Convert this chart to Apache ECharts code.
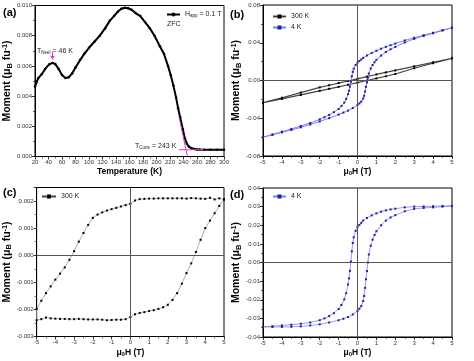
<!DOCTYPE html>
<html><head><meta charset="utf-8">
<script src="https://cdn.jsdelivr.net/npm/echarts@6/dist/echarts.min.js"></script>
<style>html,body{margin:0;padding:0;background:#fff}#c{width:474px;height:361px}</style>
</head><body><div id="c"></div>
<script>
// ---- Panel (a): ZFC moment vs temperature ----
var tempK = [20,22,25,30,35,41,46,50,55,60,65,70,75,80,87,93,100,108,116,124,131,137,143,148,153,158,163,169,176,183,190,197,205,211,217,221,225,229,232,235,239,242,245,248,252,256,260,264,270,280,290,300];
var momentZFC = [0.00463,0.0049,0.0052,0.00545,0.0058,0.0061,0.0062,0.00612,0.0058,0.0054,0.0052,0.00525,0.0055,0.0059,0.0064,0.0068,0.0072,0.0076,0.0080,0.0085,0.0090,0.0093,0.0096,0.00978,0.00985,0.00982,0.00972,0.0095,0.0093,0.0089,0.0085,0.0080,0.0073,0.0068,0.0060,0.0054,0.0047,0.0039,0.0032,0.0026,0.0018,0.0012,0.00085,0.00065,0.00055,0.0005,0.00047,0.00046,0.00045,0.00045,0.00044,0.00045];
var curieTangentT = [233.5, 245.5];
var curieTangentM = [0.0026, 0.00005];
var curieBaseT = [233, 270];
var curieBaseM = [0.00045, 0.00045];
var neelArrowT = 46;
var neelArrowM = [0.00695, 0.00643];

// ---- Panel (b): raw loops ----
var h300Desc = [5,4,3,2,1.5,1,0.5,0,-0.5,-1,-1.5,-2,-3,-4,-5];
var m300bDesc = [0.0235,0.0193,0.0150,0.0107,0.0086,0.0064,0.0041,0.0018,-0.0005,-0.0027,-0.0050,-0.0073,-0.0128,-0.0183,-0.0235];
var h300Asc = [-5,-4,-3,-2,-1.5,-1,-0.5,0,0.5,1,1.5,2,3,4,5];
var m300bAsc = [-0.0235,-0.0195,-0.0153,-0.0110,-0.0088,-0.0067,-0.0045,-0.0023,0.0000,0.0022,0.0045,0.0069,0.0130,0.0183,0.0235];
var h4Desc = [5,4.5,4,3.5,3,2.5,2,1.75,1.5,1.25,1,0.75,0.5,0.3,0.2,0.1,0,-0.1,-0.2,-0.25,-0.3,-0.35,-0.4,-0.45,-0.5,-0.6,-0.7,-0.85,-1,-1.25,-1.5,-1.75,-2,-2.5,-3,-3.5,-4,-4.5,-5];
var m4bDesc = [0.0559,0.0533,0.0506,0.0480,0.0453,0.0424,0.0391,0.0374,0.0357,0.0337,0.0315,0.0291,0.0265,0.0240,0.0223,0.0207,0.0190,0.0165,0.0125,0.0092,0.0045,-0.0013,-0.0065,-0.0108,-0.0144,-0.0196,-0.0234,-0.0271,-0.0301,-0.0336,-0.0365,-0.0389,-0.0412,-0.0450,-0.0482,-0.0513,-0.0542,-0.0572,-0.0601];
var h4Asc = [-5,-4.5,-4,-3.5,-3,-2.5,-2,-1.5,-1,-0.75,-0.5,-0.25,0,0.1,0.2,0.3,0.35,0.4,0.45,0.5,0.55,0.6,0.7,0.8,0.9,1,1.25,1.5,1.75,2,2.5,3,3.5,4,4.5,5];
var m4bAsc = [-0.0601,-0.0576,-0.0550,-0.0524,-0.0496,-0.0466,-0.0434,-0.0399,-0.0361,-0.0340,-0.0319,-0.0292,-0.0260,-0.0243,-0.0224,-0.0192,-0.0162,-0.0116,-0.0067,-0.0020,0.0028,0.0074,0.0126,0.0164,0.0194,0.0219,0.0264,0.0302,0.0331,0.0356,0.0403,0.0441,0.0472,0.0500,0.0530,0.0559];

// ---- Panel (c): 300 K loop ----
var hcDesc = [5,4.75,4.5,4.25,4,3.75,3.5,3.25,3,2.75,2.5,2.25,2,1.75,1.5,1.25,1,0.75,0.5,0.25,0,-0.25,-0.5,-0.75,-1,-1.25,-1.5,-1.75,-2,-2.25,-2.5,-2.75,-3,-3.25,-3.5,-3.75,-4,-4.25,-4.5,-4.75,-5];
var mcDesc = [0.00205,0.00210,0.00206,0.00212,0.00208,0.00209,0.00210,0.00211,0.00209,0.00210,0.00210,0.00210,0.00210,0.00210,0.00210,0.00209,0.00209,0.00208,0.00207,0.00202,0.00190,0.00185,0.00180,0.00175,0.00170,0.00165,0.00158,0.00150,0.00138,0.00112,0.00082,0.00050,0.00015,-0.00017,-0.00045,-0.00068,-0.00090,-0.00115,-0.00140,-0.00168,-0.00198];
var hcAsc = [-5,-4.75,-4.5,-4.25,-4,-3.75,-3.5,-3.25,-3,-2.75,-2.5,-2.25,-2,-1.75,-1.5,-1.25,-1,-0.75,-0.5,-0.25,0,0.25,0.5,0.75,1,1.25,1.5,1.75,2,2.25,2.5,2.75,3,3.25,3.5,3.75,4,4.25,4.5,4.75,5];
var mcAsc = [-0.00240,-0.00236,-0.00230,-0.00233,-0.00234,-0.00235,-0.00235,-0.00236,-0.00236,-0.00235,-0.00236,-0.00237,-0.00237,-0.00237,-0.00238,-0.00240,-0.00239,-0.00238,-0.00238,-0.00236,-0.00228,-0.00218,-0.00213,-0.00210,-0.00206,-0.00203,-0.00198,-0.00192,-0.00183,-0.00165,-0.00140,-0.00105,-0.00066,-0.00030,0.00012,0.00057,0.00100,0.00128,0.00155,0.00182,0.00208];

// ---- Panel (d): 4 K loop (same field steps as the 4 K raw loop) ----
var mdDesc = [0.0304,0.0303,0.0302,0.0301,0.0300,0.0296,0.0289,0.0285,0.0280,0.0273,0.0264,0.0253,0.0239,0.0225,0.0213,0.0202,0.0190,0.0170,0.0135,0.0105,0.0060,0.0005,-0.0045,-0.0085,-0.0118,-0.0165,-0.0198,-0.0228,-0.0250,-0.0272,-0.0288,-0.0300,-0.0310,-0.0322,-0.0329,-0.0334,-0.0338,-0.0342,-0.0346];
var mdAsc = [-0.0346,-0.0346,-0.0346,-0.0345,-0.0343,-0.0338,-0.0332,-0.0322,-0.0310,-0.0302,-0.0293,-0.0279,-0.0260,-0.0248,-0.0234,-0.0207,-0.0180,-0.0136,-0.0090,-0.0046,0.0000,0.0043,0.0090,0.0123,0.0148,0.0168,0.0200,0.0225,0.0242,0.0254,0.0275,0.0288,0.0293,0.0296,0.0300,0.0304];

function pairs(xs, ys){ return xs.map(function(x,i){ return [x, ys[i]]; }); }
function loop(hd, md, ha, ma){ return pairs(hd, md).concat(pairs(ha, ma)); }

var FONT = 'Liberation Sans';
var BLACK_LINE = '#444', BLACK_PT = '#000';
var BLUE_LINE = '#8080e8', BLUE_PT = '#1c1ca8';

function richFor(sz){
  return {
    b: {fontFamily: FONT, fontWeight: 'bold', fontSize: sz, color: '#000'},
    sub: {fontFamily: FONT, fontWeight: 'bold', fontSize: sz * 0.7, color: '#000', verticalAlign: 'bottom', padding:[sz*0.45,0,0,0]},
    sup: {fontFamily: FONT, fontWeight: 'bold', fontSize: sz * 0.7, color: '#000', verticalAlign: 'top', padding:[0,0,sz*0.45,0]}
  };
}
var momentName = '{b|Moment (μ}{sub|B}{b| fu}{sup|-1}{b|)}';
var fieldName = '{b|μ}{sub|0}{b|H (T)}';

function fmt(d){ return function(v){ if (Math.abs(v) < 1e-12) v = 0; return v.toFixed(d); }; }

function axis(idx, opt){
  return {
    type: 'value', gridIndex: idx,
    min: opt.min, max: opt.max, interval: opt.interval,
    name: opt.name, nameLocation: 'middle', nameGap: opt.gap,
    nameTextStyle: {rich: richFor(opt.nsz)},
    axisLine: {show: true, onZero: false, lineStyle: {color: '#000', width: 1}},
    axisTick: {show: true, length: 3, lineStyle: {color: '#000', width: 0.8}},
    minorTick: {show: true, splitNumber: 2, length: 2, lineStyle: {color: '#000', width: 0.6}},
    splitLine: {show: false},
    axisLabel: {fontFamily: FONT, fontSize: 6, color: '#333', margin: 3, formatter: opt.fmt, showMaxLabel: opt.showMax !== false, showMinLabel: true}
  };
}

var zeroLines = {
  silent: true, symbol: ['none','none'], label: {show: false},
  lineStyle: {color: '#555', width: 1, type: 'solid'},
  data: [{xAxis: 0}, {yAxis: 0}]
};

var grids = [
  {left: 35, top: 5.5, width: 189, height: 151},
  {left: 263, top: 5, width: 189, height: 151},
  {left: 35, top: 187.5, width: 189, height: 149},
  {left: 263, top: 188, width: 189, height: 149}
];
grids.forEach(function(g){ g.show = true; g.borderColor = '#000'; g.borderWidth = 1; g.backgroundColor = 'transparent'; });

var legendText = {fontFamily: FONT, fontSize: 7, color: '#222',
  rich: {n: {fontFamily: FONT, fontSize: 7, color: '#222'}, s: {fontFamily: FONT, fontSize: 4.5, color: '#222', verticalAlign: 'bottom', padding: [3,0,0,0]}}};

var option = {
  animation: false,
  textStyle: {fontFamily: FONT},
  grid: grids,
  xAxis: [
    axis(0, {min: 20, max: 300, interval: 20, name: '{b|Temperature (K)}', gap: 11, nsz: 8.5, fmt: fmt(0)}),
    axis(1, {min: -5, max: 5, interval: 1, name: fieldName, gap: 11, nsz: 8.5, fmt: fmt(0)}),
    axis(2, {min: -5, max: 5, interval: 1, name: fieldName, gap: 11, nsz: 8.5, fmt: fmt(0)}),
    axis(3, {min: -5, max: 5, interval: 1, name: fieldName, gap: 11, nsz: 8.5, fmt: fmt(0)})
  ],
  yAxis: [
    axis(0, {min: 0, max: 0.010, interval: 0.002, name: momentName, gap: 22, nsz: 10.5, fmt: fmt(3)}),
    axis(1, {min: -0.08, max: 0.08, interval: 0.04, name: momentName, gap: 19, nsz: 10.5, fmt: fmt(2)}),
    axis(2, {min: -0.003, max: 0.0025, interval: 0.001, name: momentName, gap: 22, nsz: 10.5, fmt: fmt(3), showMax: false}),
    axis(3, {min: -0.04, max: 0.04, interval: 0.01, name: momentName, gap: 19, nsz: 10.5, fmt: fmt(2)})
  ],
  legend: [
    {data: ['Happ'], left: 166, top: 11, padding: 0, itemWidth: 13, itemHeight: 5, textStyle: legendText,
     formatter: function(){ return '{n|H}{s|app}{n| = 0.1 T}'; }},
    {data: ['300 K', '4 K'], left: 272, top: 13, padding: 0, orient: 'vertical', itemGap: 4, itemWidth: 13, itemHeight: 5, textStyle: legendText},
    {data: ['300 K'], left: 41, top: 193, padding: 0, itemWidth: 14, itemHeight: 5, textStyle: legendText},
    {data: ['4 K'], left: 272, top: 193, padding: 0, itemWidth: 13, itemHeight: 5, textStyle: legendText}
  ],
  series: [
    {name: 'Happ', type: 'line', xAxisIndex: 0, yAxisIndex: 0, data: pairs(tempK, momentZFC),
     symbol: 'circle', symbolSize: 2.5, itemStyle: {color: '#000'}, lineStyle: {color: '#000', width: 2}},
    {name: 'tangent', type: 'line', xAxisIndex: 0, yAxisIndex: 0, data: pairs(curieTangentT, curieTangentM),
     symbol: 'none', lineStyle: {color: '#d040c0', width: 1}, z: 5},
    {name: 'base', type: 'line', xAxisIndex: 0, yAxisIndex: 0, data: pairs(curieBaseT, curieBaseM),
     symbol: 'none', lineStyle: {color: '#d040c0', width: 1}, z: 5,
     markLine: {silent: true, symbol: ['none', 'arrow'], symbolSize: 4, label: {show: false},
       lineStyle: {color: '#d040c0', width: 1, type: 'solid'},
       data: [[{coord: [neelArrowT, neelArrowM[0]]}, {coord: [neelArrowT, neelArrowM[1]]}]]}},
    {name: '300 K', type: 'line', xAxisIndex: 1, yAxisIndex: 1, data: loop(h300Desc, m300bDesc, h300Asc, m300bAsc),
     symbol: 'rect', symbolSize: 2, itemStyle: {color: BLACK_PT}, lineStyle: {color: BLACK_LINE, width: 1.2},
     markLine: zeroLines},
    {name: '4 K', type: 'line', xAxisIndex: 1, yAxisIndex: 1, data: loop(h4Desc, m4bDesc, h4Asc, m4bAsc),
     symbol: 'rect', symbolSize: 2, itemStyle: {color: BLUE_PT}, lineStyle: {color: BLUE_LINE, width: 1}},
    {name: '300 K', type: 'line', xAxisIndex: 2, yAxisIndex: 2, data: loop(hcDesc, mcDesc, hcAsc, mcAsc),
     symbol: 'rect', symbolSize: 2, itemStyle: {color: BLACK_PT}, lineStyle: {color: '#999', width: 0.8},
     markLine: zeroLines},
    {name: '4 K', type: 'line', xAxisIndex: 3, yAxisIndex: 3, data: loop(h4Desc, mdDesc, h4Asc, mdAsc),
     symbol: 'rect', symbolSize: 2, itemStyle: {color: BLUE_PT}, lineStyle: {color: BLUE_LINE, width: 0.8},
     markLine: zeroLines}
  ],
  graphic: [
    {type: 'text', left: 3, top: 7, style: {text: '(a)', font: 'bold 11px ' + FONT, fill: '#000'}},
    {type: 'text', left: 230, top: 9, style: {text: '(b)', font: 'bold 11px ' + FONT, fill: '#000'}},
    {type: 'text', left: 3, top: 187, style: {text: '(c)', font: 'bold 11px ' + FONT, fill: '#000'}},
    {type: 'text', left: 230, top: 189, style: {text: '(d)', font: 'bold 11px ' + FONT, fill: '#000'}},
    {type: 'text', left: 167, top: 21, style: {text: 'ZFC', font: '7px ' + FONT, fill: '#222'}},
    {type: 'text', left: 37, top: 48, style: {text: '{n|T}{s|Neel}{n| = 46 K}',
      rich: {n: {fontFamily: FONT, fontSize: 7, fill: '#222'}, s: {fontFamily: FONT, fontSize: 4.5, fill: '#222', verticalAlign: 'bottom', padding: [3,0,0,0]}}}},
    {type: 'text', left: 135, top: 143, style: {text: '{n|T}{s|Curie}{n| = 243 K}',
      rich: {n: {fontFamily: FONT, fontSize: 7, fill: '#222'}, s: {fontFamily: FONT, fontSize: 4.5, fill: '#222', verticalAlign: 'bottom', padding: [3,0,0,0]}}}}
  ]
};

var chart = echarts.init(document.getElementById('c'), null, {renderer: 'canvas'});
chart.setOption(option);
</script>
</body></html>
